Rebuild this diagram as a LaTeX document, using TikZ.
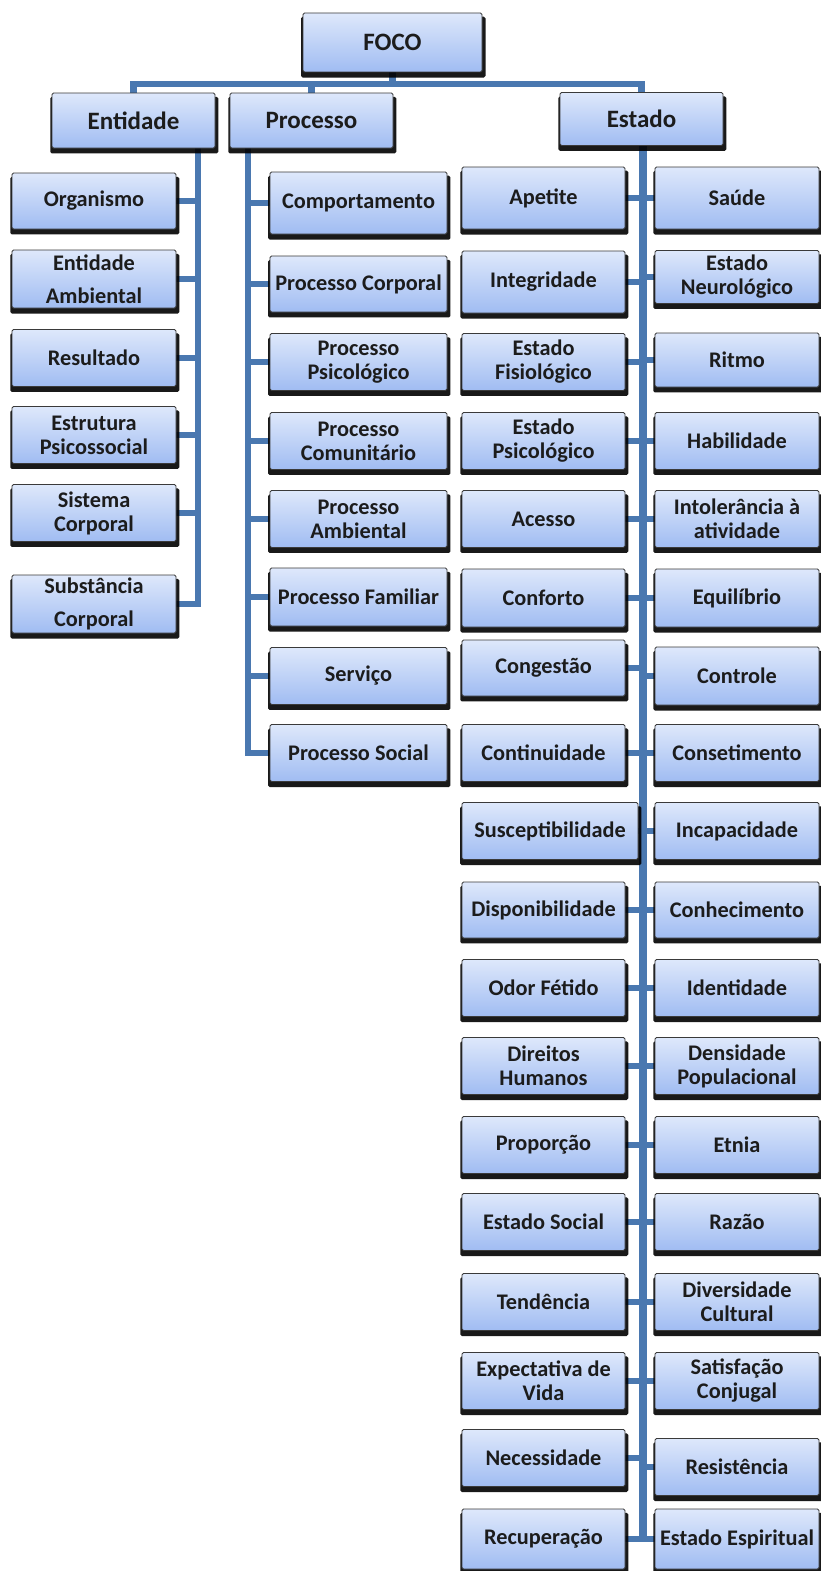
\documentclass[tikz,border=0pt]{standalone}
\usepackage{fontspec}
\setmainfont{Carlito}
\usetikzlibrary{shadows}
\definecolor{boxtop}{HTML}{DEE8FB}
\definecolor{boxbot}{HTML}{A0BCF2}
\definecolor{boxline}{HTML}{3A3A3A}
\definecolor{conn}{HTML}{4A78B0}
\definecolor{ink}{HTML}{1C1C1C}
\pgfdeclarelayer{bg}
\pgfsetlayers{bg,main}
\tikzset{
  box/.style={draw=boxline, line width=0.8pt, rounded corners=1.5pt,
    top color=boxtop, bottom color=boxbot, inner sep=0pt, align=center,
    text=ink, font=\fontsize{22.3}{24}\selectfont\bfseries,
    general shadow={fill=black, opacity=0.9, shadow xshift=0.8pt, shadow yshift=-4.5pt, shadow scale=1.03}},
  headbox/.style={box, font=\fontsize{25}{27}\selectfont\bfseries},
  link/.style={draw=conn, line width=6.5pt},
  spine/.style={draw=conn, line width=7.5pt}
}
\begin{document}
\begin{tikzpicture}[x=1pt, y=-1pt]
\useasboundingbox (0,0) rectangle (821,1571);
\clip (0,0) rectangle (821,1571);

% root and first level
\node[headbox, minimum width=179, minimum height=59] (foco) at (392.5,42.5) {FOCO};
\node[headbox, minimum width=163, minimum height=55] (ent) at (133.5,120.5) {Entidade};
\node[headbox, minimum width=163, minimum height=55] (pro) at (311.5,120.5) {Processo};
\node[headbox, minimum width=163, minimum height=53] (est) at (641.5,119) {Estado};

% Entidade branch
\foreach \n/\y/\h/\t in {
  org/201/56/{Organismo},
  entamb/279/58/{Entidade\\[9pt]Ambiental},
  res/358/57/{Resultado},
  estpsi/435/57/{Estrutura\\Psicossocial},
  siscorp/513/57/{Sistema\\Corporal},
  subcorp/604/58/{Substância\\[9pt]Corporal}}
  \node[box, minimum width=164, minimum height=\h] (\n) at (94,\y) {\t};

% Processo branch
\foreach \n/\y/\h/\t in {
  comp/203/62/{Comportamento},
  pcorp/284/56/{Processo Corporal},
  ppsi/362/57/{Processo\\Psicológico},
  pcom/441/57/{Processo\\Comunitário},
  pamb/519/57/{Processo\\Ambiental},
  pfam/597/58/{Processo Familiar},
  serv/676/57/{Serviço},
  psoc/753/57/{Processo Social}}
  \node[box, minimum width=177, minimum height=\h] (\n) at (358.5,\y) {\t};

% Estado branch, left column
\foreach \n/\y/\h/\t in {
  ape/198/62/{Apetite},
  integ/282/62/{Integridade},
  efis/362/57/{Estado\\Fisiológico},
  epsi/441/57/{Estado\\Psicológico},
  ace/519/57/{Acesso},
  conf/598/58/{Conforto},
  cong/668/56/{Congestão},
  cont/753/57/{Continuidade},
  disp/910/56/{Disponibilidade},
  odor/988/57/{Odor Fétido},
  dir/1066/57/{Direitos\\Humanos},
  prop/1145/57/{Proporção},
  esoc/1222/57/{Estado Social},
  tend/1302/57/{Tendência},
  expv/1381/57/{Expectativa de\\Vida},
  nec/1458/57/{Necessidade},
  rec/1539/60/{Recuperação}}
  \node[box, minimum width=163, minimum height=\h] (\n) at (543.5,\y) {\t};
\node[box, minimum width=176, minimum height=57] (susc) at (550,831) {Susceptibilidade};

% Estado branch, right column
\foreach \n/\y/\h/\t in {
  sau/198/62/{Saúde},
  eneu/277/53/{Estado\\Neurológico},
  rit/360/54/{Ritmo},
  hab/441/57/{Habilidade},
  intol/519/57/{Intolerância à\\atividade},
  equi/598/58/{Equilíbrio},
  ctrl/676/58/{Controle},
  cons/753/57/{Consetimento},
  inca/831/57/{Incapacidade},
  conh/910/56/{Conhecimento},
  iden/988/57/{Identidade},
  dens/1066/57/{Densidade\\Populacional},
  etn/1145/57/{Etnia},
  raz/1222/57/{Razão},
  div/1302/57/{Diversidade\\Cultural},
  sat/1381/57/{Satisfação\\Conjugal},
  resi/1467/57/{Resistência},
  esp/1539/60/{Estado Espiritual}}
  \node[box, minimum width=164, minimum height=\h] (\n) at (737,\y) {\t};

% connectors
\coordinate (bus) at (0,84);
\coordinate (entx) at (198,0);
\coordinate (prox) at (248,0);
\coordinate (estx) at (643,0);
\begin{pgfonlayer}{bg}
  \draw[link] (foco.south) -- (foco.south |- bus);
  \draw[link] (ent.north) |- (bus -| est.north) -- (est.north);
  \draw[link] (pro.north) -- (pro.north |- bus);

  \draw[link] (ent.south -| entx) -- (entx |- subcorp.east) -- (subcorp.east);
  \foreach \n in {org,entamb,res,estpsi,siscorp}
    \draw[link] (\n.east) -- (\n.east -| entx);

  \draw[link] (pro.south -| prox) -- (prox |- psoc.west) -- (psoc.west);
  \foreach \n in {comp,pcorp,ppsi,pcom,pamb,pfam,serv}
    \draw[link] (\n.west) -- (\n.west -| prox);

  \draw[spine] (est.south -| estx) -- (estx |- rec.east);
  \foreach \n in {ape,integ,efis,epsi,ace,conf,cong,cont,susc,disp,odor,dir,prop,esoc,tend,expv,nec,rec}
    \draw[link] (\n.east) -- (\n.east -| estx);
  \foreach \n in {sau,eneu,rit,hab,intol,equi,ctrl,cons,inca,conh,iden,dens,etn,raz,div,sat,resi,esp}
    \draw[link] (\n.west) -- (\n.west -| estx);
\end{pgfonlayer}
\end{tikzpicture}
\end{document}
